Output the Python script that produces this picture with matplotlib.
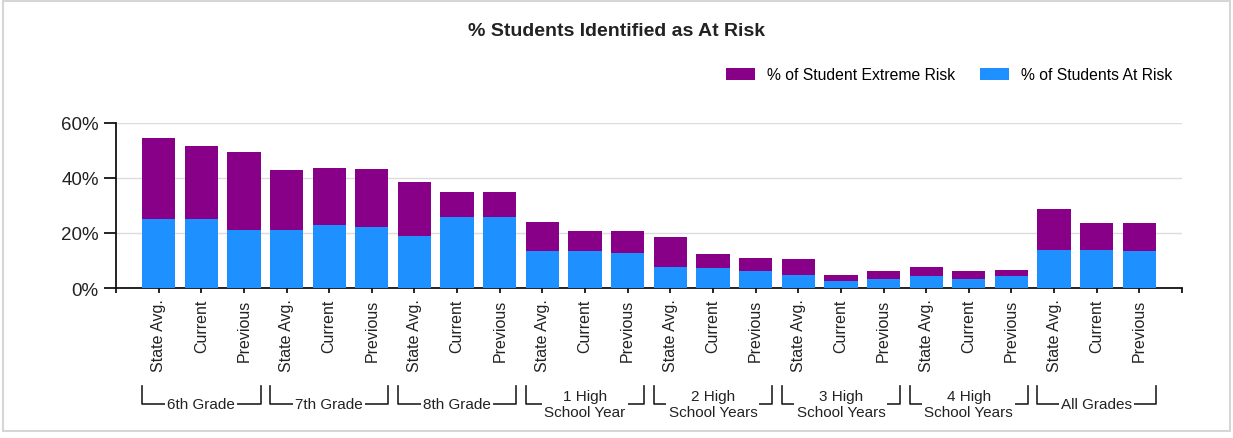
import matplotlib
matplotlib.use("Agg")
import matplotlib.pyplot as plt
import matplotlib.transforms as mtransforms
from matplotlib.patches import Rectangle, Patch

plt.rcParams["font.family"] = ["Liberation Sans", "DejaVu Sans"]

# ---- data -------------------------------------------------------------
groups = ["6th Grade", "7th Grade", "8th Grade", "1 High\nSchool Year",
          "2 High\nSchool Years", "3 High\nSchool Years", "4 High\nSchool Years",
          "All Grades"]
bar_labels = ["State Avg.", "Current", "Previous"]

# % of students at risk (lower segment)
at_risk = [25.1, 25.1, 21.2,
           21.2, 23.0, 22.3,
           19.0, 25.8, 25.8,
           13.3, 13.3, 12.8,
           7.8, 7.2, 6.1,
           4.8, 2.7, 3.3,
           4.4, 3.3, 4.4,
           13.9, 13.9, 13.3]
# total height of each bar (at risk + extreme risk)
total = [54.5, 51.7, 49.6,
         42.8, 43.7, 43.3,
         38.7, 34.8, 34.8,
         24.1, 20.6, 20.6,
         18.4, 12.2, 11.0,
         10.4, 4.8, 6.1,
         7.8, 6.1, 6.5,
         28.6, 23.5, 23.5]
extreme_risk = [t - a for t, a in zip(total, at_risk)]

y_ticks = [0, 20, 40, 60]

purple = "#880088"
blue = "#1E90FF"

# ---- figure -----------------------------------------------------------
W, H = 1233, 439
fig = plt.figure(figsize=(W / 100, H / 100), dpi=100)
ax = fig.add_axes([116 / W, 1 - 289 / H, (1182 - 116) / W, (289 - 124) / H])

n = len(at_risk)
x = list(range(1, n + 1))
bw = 0.78
ax.bar(x, at_risk, width=bw, color=blue, zorder=3)
ax.bar(x, extreme_risk, width=bw, bottom=at_risk, color=purple, zorder=3)

ax.set_xlim(0, n + 1)
ax.set_ylim(0, 60)
ax.set_yticks(y_ticks)
ax.set_yticklabels([f"{v}%" for v in y_ticks], fontsize=13.5, color="#222222")
ax.tick_params(axis="y", length=8.5, width=1.2, pad=4)
ax.yaxis.grid(True, color="#dcdcdc", linewidth=1)
ax.set_axisbelow(True)

ax.set_xticks(list(range(0, n + 2)))
ax.set_xticklabels([""] + [bar_labels[i % 3] for i in range(n)] + [""],
                   rotation=90, fontsize=11.5, va="top", ha="center",
                   color="#222222")
ax.tick_params(axis="x", length=3.6, width=1.2, pad=4)

for s in ("top", "right"):
    ax.spines[s].set_visible(False)
for s in ("left", "bottom"):
    ax.spines[s].set_linewidth(1.3)
    ax.spines[s].set_color("#111111")

# group brackets below the category labels
trans = mtransforms.blended_transform_factory(ax.transData, fig.transFigure)
y_top = 1 - 387 / H
y_bot = 1 - 405 / H
for gi, name in enumerate(groups):
    x0 = gi * 3 + 1 - bw / 2
    x1 = gi * 3 + 3 + bw / 2
    ax.plot([x0, x0, x1, x1], [y_top, y_bot, y_bot, y_top], transform=trans,
            color="#222222", lw=1.2, clip_on=False, zorder=1)
    ax.text((x0 + x1) / 2, y_bot, name, transform=trans, ha="center",
            va="center", fontsize=11, color="#222222", linespacing=1.1,
            multialignment="center", zorder=2,
            bbox=dict(facecolor="white", edgecolor="none", pad=1.5))

fig.text(617 / W, 1 - 31 / H, "% Students Identified as At Risk",
         ha="center", va="center", fontsize=14, fontweight="bold",
         color="#222222")

handles = [Patch(facecolor=purple, label="% of Student Extreme Risk"),
           Patch(facecolor=blue, label="% of Students At Risk")]
fig.legend(handles=handles, loc="center right",
           bbox_to_anchor=(1172 / W, 1 - 76 / H), ncol=2, frameon=False,
           fontsize=11.3, handlelength=1.85, handleheight=0.75,
           handletextpad=0.75, columnspacing=1.6, borderpad=0,
           borderaxespad=0)

# light frame around the whole chart
fig.add_artist(Rectangle((3 / W, 1 - 432 / H), (1230 - 3) / W, (432 - 2) / H,
                         transform=fig.transFigure, fill=False,
                         edgecolor="#d6d6d6", linewidth=1.5))

fig.savefig("out.png", dpi=100)
